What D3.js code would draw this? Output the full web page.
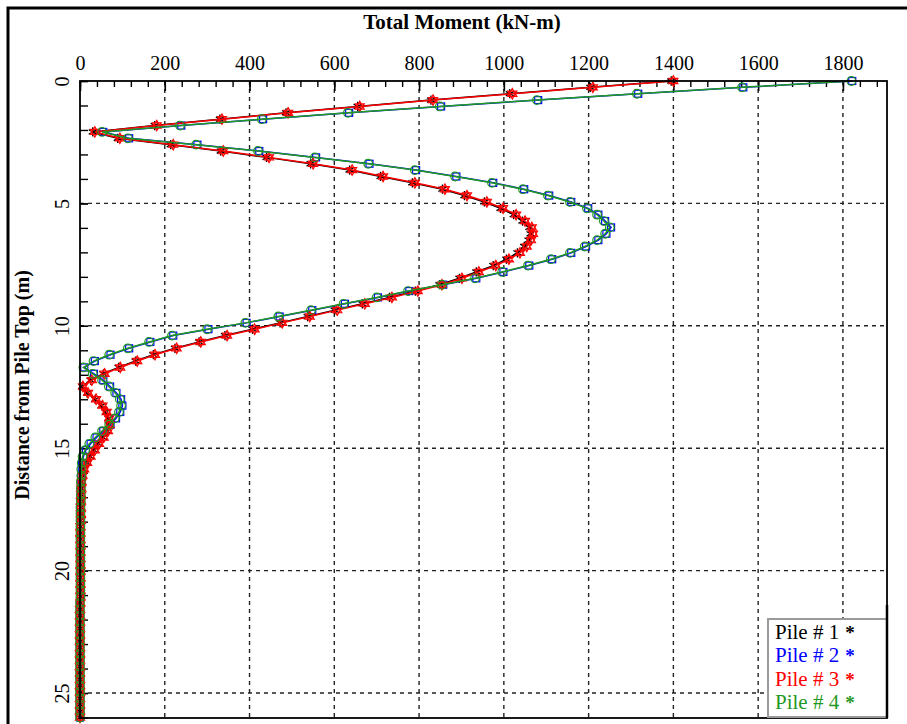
<!DOCTYPE html>
<html>
<head>
<meta charset="utf-8">
<script src="https://cdn.jsdelivr.net/npm/d3@7"></script>
<style>
  html, body { margin: 0; padding: 0; background: #fff; }
  svg { display: block; font-family: "Liberation Serif", "Times New Roman", serif; }
</style>
</head>
<body>
<svg id="chart" width="907" height="724"></svg>
<script>
// Depth below pile top (m)
const depth = [0, 0.26, 0.52, 0.78, 1.04, 1.3, 1.56, 1.82, 2.08, 2.34,
  2.6, 2.86, 3.12, 3.38, 3.64, 3.9, 4.16, 4.42, 4.68, 4.94,
  5.2, 5.46, 5.72, 5.98, 6.24, 6.5, 6.76, 7.02, 7.28, 7.54,
  7.8, 8.06, 8.32, 8.58, 8.84, 9.1, 9.36, 9.62, 9.88, 10.14,
  10.4, 10.66, 10.92, 11.18, 11.44, 11.7, 11.96, 12.22, 12.48, 12.74,
  13, 13.26, 13.52, 13.78, 14.04, 14.3, 14.56, 14.82, 15.08, 15.34,
  15.6, 15.86, 16.12, 16.38, 16.64, 16.9, 17.16, 17.42, 17.68, 17.94,
  18.2, 18.46, 18.72, 18.98, 19.24, 19.5, 19.76, 20.02, 20.28, 20.54,
  20.8, 21.06, 21.32, 21.58, 21.84, 22.1, 22.36, 22.62, 22.88, 23.14,
  23.4, 23.66, 23.92, 24.18, 24.44, 24.7, 24.96, 25.22, 25.48, 25.74, 26.0];

// Total moment (kN-m) for each pile
const pile1 = [1395, 1204, 1014, 828, 655, 486, 330, 176, 30, 89,
  214, 332, 440, 544, 636, 709, 784, 855, 907, 954,
  992, 1023, 1044, 1060, 1063, 1058, 1048, 1032, 1006, 975,
  935, 895, 848, 791, 730, 666, 601, 537, 472, 407,
  342, 281, 224, 173, 131, 91, 55, 25, 5, 17,
  36, 51, 61, 67, 68, 64, 54, 43, 33, 24,
  16, 9, 5, 3, 3, 2, 2, 2, 2, 1,
  1, 1, 1, 1, 1, 1, 1, 1, 1, 1,
  1, 1, 0, 0, 0, 0, 0, 0, 0, 0,
  0, 0, 0, 0, 0, 0, 0, 0, 0, 0, 0];

const pile2 = [1822, 1565, 1317, 1081, 852, 635, 432, 239, 55, 116,
  277, 423, 557, 683, 793, 888, 975, 1048, 1107, 1159,
  1199, 1223, 1239, 1253, 1242, 1223, 1194, 1159, 1114, 1060,
  999, 935, 857, 777, 703, 625, 548, 471, 393, 303,
  220, 166, 116, 72, 35, 10, 33, 55, 71, 86,
  97, 100, 95, 85, 72, 55, 39, 25, 14, 8,
  5, 4, 3, 3, 2, 2, 2, 1, 1, 1,
  1, 1, 1, 1, 1, 1, 1, 1, 1, 1,
  1, 1, 0, 0, 0, 0, 0, 0, 0, 0,
  0, 0, 0, 0, 0, 0, 0, 0, 0, 0, 0];

const pile3 = [1400, 1210, 1020, 833, 660, 491, 335, 181, 35, 94,
  220, 338, 446, 550, 642, 715, 790, 861, 913, 960,
  998, 1029, 1050, 1066, 1069, 1064, 1054, 1038, 1012, 981,
  941, 901, 854, 797, 736, 672, 607, 542, 477, 412,
  347, 285, 228, 177, 135, 95, 58, 28, 7, 19,
  38, 53, 63, 69, 70, 66, 56, 45, 35, 25,
  17, 10, 6, 4, 3, 3, 2, 2, 2, 2,
  1, 1, 1, 1, 1, 1, 1, 1, 1, 1,
  1, 1, 1, 0, 0, 0, 0, 0, 0, 0,
  0, 0, 0, 0, 0, 0, 0, 0, 0, 0, 0];

const pile4 = [1820, 1562, 1314, 1078, 849, 632, 429, 236, 52, 113,
  274, 420, 554, 680, 790, 885, 972, 1045, 1104, 1156,
  1196, 1220, 1236, 1250, 1239, 1220, 1191, 1156, 1111, 1057,
  996, 932, 854, 774, 700, 622, 545, 468, 390, 300,
  217, 163, 113, 69, 32, 8, 30, 52, 68, 83,
  94, 97, 92, 82, 69, 52, 36, 22, 12, 6,
  4, 3, 3, 2, 2, 2, 2, 1, 1, 1,
  1, 1, 1, 1, 1, 1, 1, 1, 1, 1,
  1, 1, 0, 0, 0, 0, 0, 0, 0, 0,
  0, 0, 0, 0, 0, 0, 0, 0, 0, 0, 0];

const xTickLabels = [0, 200, 400, 600, 800, 1000, 1200, 1400, 1600, 1800];
const yTickLabels = [0, 5, 10, 15, 20, 25];
const pileNames = ["Pile # 1", "Pile # 2", "Pile # 3", "Pile # 4"];
const pileColors = ["#000000", "#0000ff", "#ff0000", "#1f991f"];

const svg = d3.select("#chart");
const plot = { left: 80, top: 81, right: 887, bottom: 718 };

const x = d3.scaleLinear().domain([0, 1904]).range([plot.left, plot.right]);
const y = d3.scaleLinear().domain([0, 26.02]).range([plot.top, plot.bottom]);
const fmt = d3.format("d");

// outer frame
svg.append("rect")
  .attr("x", 8).attr("y", 8).attr("width", 930).attr("height", 760)
  .attr("fill", "none").attr("stroke", "#000").attr("stroke-width", 3);

// chart titles
svg.append("text")
  .attr("x", 462).attr("y", 29)
  .attr("text-anchor", "middle")
  .attr("font-size", 21).attr("font-weight", "bold")
  .text("Total Moment (kN-m)");

svg.append("text")
  .attr("transform", "translate(29,385) rotate(-90)")
  .attr("text-anchor", "middle")
  .attr("font-size", 20).attr("font-weight", "bold")
  .text("Distance from Pile Top (m)");

// dashed grid
const grid = svg.append("g").attr("stroke", "#222").attr("stroke-width", 1.4)
  .attr("stroke-dasharray", "4,4");
grid.selectAll("line.vx").data(xTickLabels.filter(v => v > 0)).join("line")
  .attr("x1", d => x(d)).attr("x2", d => x(d))
  .attr("y1", plot.top).attr("y2", plot.bottom);
grid.selectAll("line.hy").data(yTickLabels.filter(v => v > 0)).join("line")
  .attr("x1", plot.left).attr("x2", plot.right)
  .attr("y1", d => y(d)).attr("y2", d => y(d));

function plain(g) {
  g.attr("font-family", null).attr("font-size", null);
  g.select(".domain").remove();
}

// top axis: minor ticks every 40, major every 200
svg.append("g")
  .attr("transform", `translate(0,${plot.top})`)
  .call(d3.axisTop(x).tickValues(d3.range(0, 1904, 40)).tickSizeInner(-6).tickSizeOuter(0).tickFormat(""))
  .call(plain)
  .call(g => g.selectAll("line").attr("stroke-width", 1.4));

svg.append("g")
  .attr("transform", `translate(0,${plot.top})`)
  .call(d3.axisTop(x).tickValues(xTickLabels).tickFormat(fmt).tickSizeInner(-10).tickSizeOuter(0).tickPadding(11))
  .call(plain)
  .call(g => g.selectAll("line").attr("stroke-width", 1.6))
  .call(g => g.selectAll("text").attr("font-size", 20).attr("fill", "#000"));

// left axis: minor ticks every 1 m, labels rotated
svg.append("g")
  .attr("transform", `translate(${plot.left},0)`)
  .call(d3.axisLeft(y).tickValues(d3.range(0, 27, 1)).tickSizeInner(-8).tickSizeOuter(0).tickFormat(""))
  .call(plain)
  .call(g => g.selectAll("line").attr("stroke-width", 1.4));

svg.append("g")
  .attr("transform", `translate(${plot.left},0)`)
  .call(d3.axisLeft(y).tickValues(yTickLabels).tickFormat(fmt).tickSizeInner(-8).tickSizeOuter(0))
  .call(plain)
  .call(g => g.selectAll("line").attr("stroke-width", 1.4))
  .call(g => g.selectAll("text")
    .attr("x", null).attr("dy", null)
    .attr("text-anchor", "middle")
    .attr("transform", "translate(-11,0) rotate(-90)")
    .attr("font-size", 20).attr("fill", "#000"));

// series
const series = [pile1, pile2, pile3, pile4].map((vals, i) => ({
  name: pileNames[i], color: pileColors[i],
  points: vals.map((m, k) => ({ m, d: depth[k] }))
}));

const line = d3.line().x(p => x(p.m)).y(p => y(p.d));

function hexagram(r) {
  const pt = a => [r * Math.cos(a * Math.PI / 180), r * Math.sin(a * Math.PI / 180)];
  const tri = angs => "M" + angs.map(a => pt(a).join(",")).join("L") + "Z";
  return tri([-90, 30, 150]) + tri([90, 210, 330]);
}

const layer = svg.append("g");
series.forEach((s, i) => {
  const g = layer.append("g");
  g.append("path").attr("d", line(s.points))
    .attr("fill", "none").attr("stroke", s.color).attr("stroke-width", 1.5);
  const mk = g.selectAll("g.m").data(s.points).join("g")
    .attr("transform", p => `translate(${x(p.m)},${y(p.d)})`);
  if (i === 0) {
    mk.append("path").attr("d", d3.symbol(d3.symbolAsterisk, 60)())
      .attr("fill", "none").attr("stroke", s.color).attr("stroke-width", 1.3);
  } else if (i === 1) {
    mk.append("rect").attr("x", -3.5).attr("y", -3.5).attr("width", 7).attr("height", 7)
      .attr("fill", "none").attr("stroke", s.color).attr("stroke-width", 1.2);
  } else if (i === 2) {
    mk.append("path").attr("d", hexagram(5.2))
      .attr("fill", "none").attr("stroke", s.color).attr("stroke-width", 1.2);
  } else {
    mk.append("circle").attr("r", 4.3)
      .attr("fill", "none").attr("stroke", s.color).attr("stroke-width", 1.2);
  }
});

// plot frame
svg.append("rect")
  .attr("x", plot.left).attr("y", plot.top)
  .attr("width", plot.right - plot.left).attr("height", plot.bottom - plot.top)
  .attr("fill", "none").attr("stroke", "#000").attr("stroke-width", 1.8);

// legend
const lg = svg.append("g");
lg.append("rect")
  .attr("x", 768).attr("y", 619).attr("width", 119).attr("height", 98)
  .attr("fill", "#fff").attr("stroke", "#9a9a9a").attr("stroke-width", 2);
pileNames.forEach((name, i) => {
  const t = lg.append("text")
    .attr("x", 775).attr("y", 639 + i * 23.3)
    .attr("font-size", 21).attr("fill", pileColors[i]);
  t.append("tspan").text(name);
  t.append("tspan").attr("dx", 6).attr("font-weight", "bold").attr("font-size", 19).text("*");
});
svg.append("line")
  .attr("x1", plot.right).attr("x2", plot.right)
  .attr("y1", 605).attr("y2", plot.bottom)
  .attr("stroke", "#000").attr("stroke-width", 2.5);
</script>
</body>
</html>
